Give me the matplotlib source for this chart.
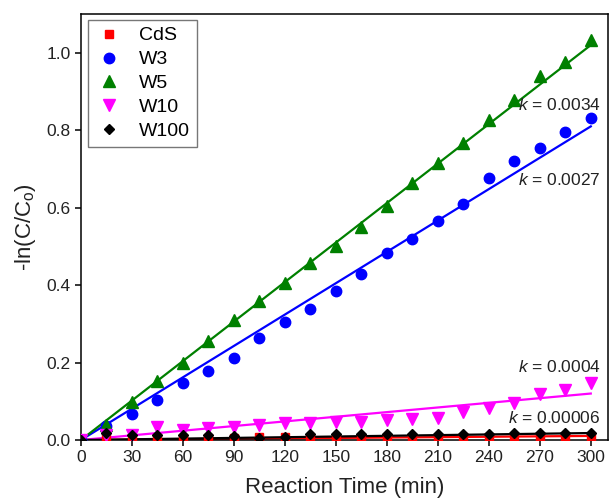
import matplotlib.pyplot as plt
import numpy as np

plt.rcParams['font.family'] = ['Liberation Sans', 'DejaVu Sans']
plt.rcParams['mathtext.fontset'] = 'custom'
plt.rcParams['mathtext.rm'] = 'Liberation Sans'
plt.rcParams['mathtext.it'] = 'Liberation Sans:italic'

time = [0, 15, 30, 45, 60, 75, 90, 105, 120, 135, 150, 165, 180, 195, 210, 225, 240, 255, 270, 285, 300]

cds = [0, 0.004, 0.004, 0.005, 0.005, 0.005, 0.005, 0.007, 0.007, 0.006, 0.006, 0.006, 0.006,
       0.006, 0.006, 0.007, 0.007, 0.007, 0.007, 0.007, 0.008]
w3 = [0, 0.035, 0.066, 0.103, 0.147, 0.179, 0.211, 0.263, 0.304, 0.338, 0.386, 0.429, 0.483,
      0.518, 0.565, 0.61, 0.677, 0.72, 0.753, 0.796, 0.832]
w5 = [0, 0.039, 0.099, 0.153, 0.2, 0.256, 0.309, 0.358, 0.405, 0.457, 0.502, 0.551, 0.605,
      0.665, 0.716, 0.768, 0.827, 0.879, 0.941, 0.977, 1.034]
w10 = [0, 0.012, 0.012, 0.034, 0.026, 0.03, 0.034, 0.039, 0.043, 0.043, 0.047, 0.047, 0.052,
       0.053, 0.056, 0.073, 0.082, 0.095, 0.118, 0.129, 0.147]
w100 = [0, 0.018, 0.013, 0.012, 0.012, 0.014, 0.01, 0.006, 0.008, 0.015, 0.016, 0.016, 0.016,
        0.016, 0.016, 0.016, 0.016, 0.017, 0.017, 0.017, 0.017]

names = ["CdS", "W3", "W5", "W10", "W100"]
series = [cds, w3, w5, w10, w100]
rates = [0.000035, 0.0027, 0.0034, 0.0004, 0.00006]
colors = ["red", "blue", "green", "magenta", "black"]
markers = ["s", "o", "^", "v", "D"]
sizes = [6, 7.5, 8.5, 8.5, 5.5]

labels = ["$\\it{k}$ = 0.0034", "$\\it{k}$ = 0.0027", "$\\it{k}$ = 0.0004", "$\\it{k}$ = 0.00006"]
label_pos = [(306, 0.865), (306, 0.672), (306, 0.188), (306, 0.057)]

fig = plt.figure(figsize=(6.09, 5.04), dpi=100)
ax = fig.add_axes([0.133, 0.127, 0.865, 0.845])

t = np.array(time)
for i in range(len(series)):
    ax.plot(t, rates[i] * t, color=colors[i], lw=1.6, zorder=2)
for i in range(len(series)):
    ax.plot(time, series[i], linestyle="none", marker=markers[i], color=colors[i],
            markersize=sizes[i], label=names[i], zorder=3)

for txt, (x, y) in zip(labels, label_pos):
    ax.text(x, y, txt, ha="right", va="center", fontsize=12.5, color="#222222")

ax.set_xlim(0, 310)
ax.set_ylim(0, 1.1)
ax.set_xticks(range(0, 301, 30))
ax.set_yticks([0.0, 0.2, 0.4, 0.6, 0.8, 1.0])
ax.set_yticklabels(["0.0", "0.2", "0.4", "0.6", "0.8", "1.0"])
ax.tick_params(direction="out", length=4, width=1.1, labelsize=12.5, labelcolor="#222222")
for s in ax.spines.values():
    s.set_linewidth(1.1)

ax.set_xlabel("Reaction Time (min)", fontsize=16, color="#222222", labelpad=8)
ax.set_ylabel("-ln(C/C$_\\mathregular{o}$)", fontsize=16, color="#222222", labelpad=6)

leg = ax.legend(loc="upper left", fontsize=14, frameon=True, fancybox=False,
                edgecolor="#555555", handletextpad=0.8, borderpad=0.35,
                labelspacing=0.32, handlelength=1.5, borderaxespad=0,
                bbox_to_anchor=(0.013, 0.986))
leg.get_frame().set_linewidth(1.0)

plt.savefig("out.png", dpi=100)
